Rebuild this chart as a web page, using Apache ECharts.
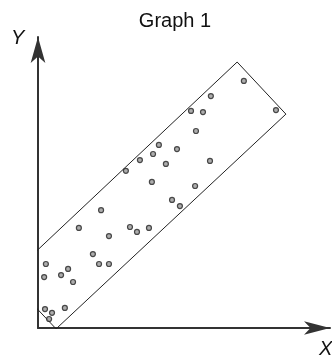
<!DOCTYPE html>
<html>
<head>
<meta charset="utf-8">
<script src="https://cdn.jsdelivr.net/npm/echarts@6/dist/echarts.min.js"></script>
<style>
  html, body { margin: 0; padding: 0; background: #fff; }
  #chart1 { width: 332px; height: 364px; }
</style>
</head>
<body>
<div id="chart1"></div>
<script>
// scatter points (x, y) in axis units
var pointsX = [70.5, 59.2, 52.4, 56.5, 81.5, 54.1, 41.4, 47.6, 39.4, 34.9, 43.8, 58.9, 30.1, 39.0, 53.8, 45.9, 48.6, 21.6,
    14.0, 31.5, 33.9, 38.0, 24.3, 18.8, 20.9, 24.3, 2.7, 2.1, 7.9, 10.3, 12.0, 2.4, 4.8, 3.8, 9.2]
var pointsY = [84.9, 79.7, 74.6, 74.2, 74.9, 67.7, 62.9, 61.5, 59.8, 57.7, 56.4, 57.4, 54.0, 50.2, 48.8, 44.0, 41.9, 40.5,
    34.4, 34.7, 33.0, 34.4, 31.6, 25.4, 22.0, 22.0, 22.0, 17.5, 18.2, 20.3, 15.8, 6.5, 5.2, 3.1, 6.9]
// the box around the points (closed)
var boxX = [-10.3, 68.2, 84.9, 6.2, -10.3]
var boxY = [17.2, 91.4, 73.5, -0.3, 17.2]

var chartTitle = 'Graph 1'
var xName = 'X'
var yName = 'Y'

var myChart1 = echarts.init(document.getElementById('chart1'))

var scatterData = pointsX.map(function (x, i) { return [x, pointsY[i]] })
var boxData = boxX.map(function (x, i) { return [x, boxY[i]] })

var option = {
    animation: false,
    title: {
        text: chartTitle,
        left: 170,
        textAlign: 'center',
        top: 6,
        textStyle: {
            fontFamily: 'Liberation Sans, Arial, sans-serif',
            fontSize: 20,
            fontWeight: 'normal',
            color: '#111'
        }
    },
    grid: {
        left: 38,
        right: 2,
        top: 37,
        bottom: 36
    },
    xAxis: {
        type: 'value',
        min: 0,
        max: 100,
        axisLine: {
            show: true,
            symbol: ['none', 'arrow'],
            symbolSize: [10, 26],
            lineStyle: { color: '#333', width: 2 }
        },
        axisTick: { show: false },
        axisLabel: { show: false },
        splitLine: { show: false }
    },
    yAxis: {
        type: 'value',
        min: 0,
        max: 100,
        axisLine: {
            show: true,
            symbol: ['none', 'arrow'],
            symbolSize: [11, 26],
            lineStyle: { color: '#333', width: 2 }
        },
        axisTick: { show: false },
        axisLabel: { show: false },
        splitLine: { show: false }
    },
    graphic: [
        {
            type: 'text',
            left: 11,
            top: 28,
            style: {
                text: yName,
                fontFamily: 'Liberation Sans, sans-serif',
                fontStyle: 'italic',
                fontSize: 20,
                fill: '#111'
            }
        },
        {
            type: 'text',
            left: 319,
            top: 339,
            style: {
                text: xName,
                fontFamily: 'Liberation Sans, sans-serif',
                fontStyle: 'italic',
                fontSize: 20,
                fill: '#111'
            }
        }
    ],
    series: [
        {
            type: 'line',
            data: boxData,
            clip: false,
            symbol: 'none',
            lineStyle: { color: '#222', width: 1 },
            z: 1
        },
        {
            type: 'scatter',
            data: scatterData,
            symbol: 'circle',
            symbolSize: 5,
            itemStyle: { color: '#999', borderColor: '#222', borderWidth: 1.2 },
            z: 2
        }
    ]
}
myChart1.setOption(option)
</script>
</body>
</html>
